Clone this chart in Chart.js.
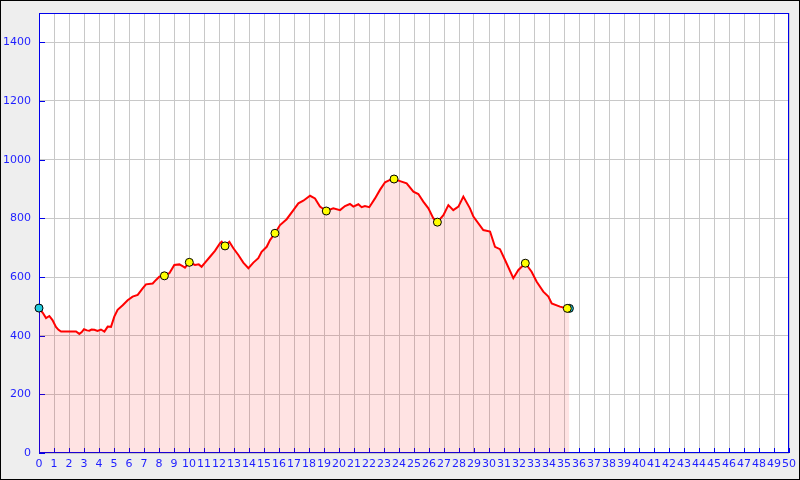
<!DOCTYPE html>
<html>
<head>
<meta charset="utf-8">
<script src="https://cdn.jsdelivr.net/npm/chart.js@4"></script>
<style>
  html, body { margin: 0; padding: 0; background: #eeeeee; }
  #wrap { width: 800px; height: 480px; }
</style>
</head>
<body>
<div id="wrap"><canvas id="perfil" width="800" height="480"></canvas></div>
<script>
const distKm = [0, 0.25, 0.47, 0.69, 0.9, 1.13, 1.3, 1.47, 2.0, 2.47, 2.69, 2.85, 3.0, 3.2, 3.36, 3.5, 3.69, 3.9, 4.13, 4.36,
  4.58, 4.8, 5.02, 5.24, 5.58, 5.91, 6.24, 6.58, 6.91, 7.13, 7.58, 7.8, 8.02, 8.36, 8.69, 9.02, 9.36, 9.6, 9.73, 10.02,
  10.4, 10.65, 10.84, 11.07, 11.4, 11.73, 12.07, 12.18, 12.4, 12.69, 12.96, 13.29, 13.62, 13.96, 14.29, 14.62, 14.84, 15.18, 15.4, 15.73,
  16.07, 16.51, 16.96, 17.29, 17.62, 18.07, 18.4, 18.73, 19.15, 19.62, 20.07, 20.4, 20.73, 20.96, 21.29, 21.51, 21.73, 22.02, 22.4, 22.73,
  23.07, 23.4, 23.67, 24.07, 24.51, 24.96, 25.29, 25.62, 25.96, 26.29, 26.56, 26.96, 27.29, 27.62, 27.96, 28.29, 28.73, 28.96, 29.62, 30.07,
  30.4, 30.73, 31.07, 31.62, 31.96, 32.42, 32.84, 33.18, 33.62, 33.96, 34.18, 34.73, 35.22, 35.36];
const altitude = [494, 478, 460, 467, 453, 430, 420, 414, 414, 414, 406, 412, 422, 418, 417, 421, 420, 416, 421, 414,
  431, 430, 465, 488, 504, 521, 533, 539, 561, 575, 578, 590, 601, 604, 613, 641, 643, 636, 632, 650,
  641, 643, 635, 649, 669, 689, 715, 720, 706, 720, 698, 675, 649, 630, 649, 664, 686, 703, 726, 749,
  777, 797, 828, 851, 860, 877, 868, 840, 825, 834, 828, 842, 849, 840, 848, 838, 842, 838, 868, 897,
  923, 931, 934, 927, 919, 891, 883, 857, 834, 800, 787, 811, 845, 828, 840, 874, 834, 806, 760, 755,
  703, 695, 658, 596, 624, 647, 618, 584, 550, 533, 510, 499, 493, 493];

// pontos de passagem (amarelo) e inicio/fim (ciano)
const wayKm = [8.36, 10.02, 12.4, 15.73, 19.15, 23.67, 26.56, 32.42, 35.22];
const wayAlt = [604, 650, 706, 749, 825, 934, 787, 647, 493];
const endsKm = [0, 35.36];
const endsAlt = [494, 493];

const azul = 'rgb(0,0,235)';
const corTexto = 'rgb(30,30,255)';

const toXY = (xs, ys) => xs.map((x, i) => ({ x: x, y: ys[i] }));

// fundo, moldura e marcas dos eixos
const moldura = {
  id: 'moldura',
  beforeDraw(chart) {
    const c = chart.ctx, a = chart.chartArea;
    c.save();
    c.fillStyle = '#eeeeee';
    c.fillRect(0, 0, chart.width, chart.height);
    c.fillStyle = '#ffffff';
    c.fillRect(a.left, a.top, a.right - a.left, a.bottom - a.top);
    c.restore();
  },
  beforeDatasetsDraw(chart) {
    const c = chart.ctx, a = chart.chartArea;
    const sx = chart.scales.x, sy = chart.scales.y;
    c.save();
    c.strokeStyle = azul;
    c.lineWidth = 1;
    c.strokeRect(a.left + 0.5, a.top + 0.5, a.right - a.left - 1, a.bottom - a.top - 1);
    c.beginPath();
    sx.ticks.forEach(t => {
      const px = Math.round(sx.getPixelForValue(t.value)) + 0.5;
      c.moveTo(px, a.bottom);
      c.lineTo(px, a.bottom - 5);
    });
    sy.ticks.forEach(t => {
      const py = Math.round(sy.getPixelForValue(t.value)) + 0.5;
      c.moveTo(a.left, py);
      c.lineTo(a.left + 6, py);
    });
    c.stroke();
    c.restore();
  },
  afterDraw(chart) {
    const c = chart.ctx;
    c.save();
    c.strokeStyle = '#000000';
    c.lineWidth = 1;
    c.strokeRect(0.5, 0.5, chart.width - 1, chart.height - 1);
    c.restore();
  }
};

new Chart(document.getElementById('perfil'), {
  type: 'line',
  data: {
    datasets: [
      {
        type: 'scatter',
        data: toXY(wayKm, wayAlt),
        pointRadius: 4,
        pointBackgroundColor: '#ffff00',
        pointBorderColor: '#000000',
        pointBorderWidth: 1,
        showLine: false,
        clip: false
      },
      {
        type: 'scatter',
        data: toXY(endsKm, endsAlt),
        pointRadius: 4,
        pointBackgroundColor: '#22ccdd',
        pointBorderColor: '#000000',
        pointBorderWidth: 1,
        showLine: false,
        clip: false
      },
      {
        data: toXY(distKm, altitude),
        borderColor: '#ff0000',
        borderWidth: 2,
        backgroundColor: 'rgba(255,0,0,0.11)',
        fill: 'origin',
        pointRadius: 0,
        tension: 0
      }
    ]
  },
  options: {
    responsive: false,
    animation: false,
    layout: { padding: { top: 13, right: 11, left: 0, bottom: 0 } },
    plugins: { legend: { display: false }, tooltip: { enabled: false } },
    scales: {
      x: {
        type: 'linear',
        min: 0,
        max: 50,
        afterFit(s) {
          s.height = 27;
          s.paddingLeft = 0;
          s.paddingRight = 0;
        },
        grid: { color: '#c8c8c8', lineWidth: 1, drawTicks: false },
        border: { display: false },
        ticks: {
          stepSize: 1,
          autoSkip: false,
          maxRotation: 0,
          padding: 5,
          color: corTexto,
          font: { family: 'DejaVu Sans', size: 11 },
          callback: v => String(v)
        }
      },
      y: {
        min: 0,
        max: 1500,
        afterFit(s) {
          s.width = 39;
          s.paddingTop = 0;
          s.paddingBottom = 0;
        },
        grid: { color: '#c8c8c8', lineWidth: 1, drawTicks: false },
        border: { display: false },
        ticks: {
          stepSize: 200,
          includeBounds: false,
          padding: 8,
          color: corTexto,
          font: { family: 'DejaVu Sans', size: 11 },
          callback: v => String(v)
        }
      }
    }
  },
  plugins: [moldura]
});
</script>
</body>
</html>
